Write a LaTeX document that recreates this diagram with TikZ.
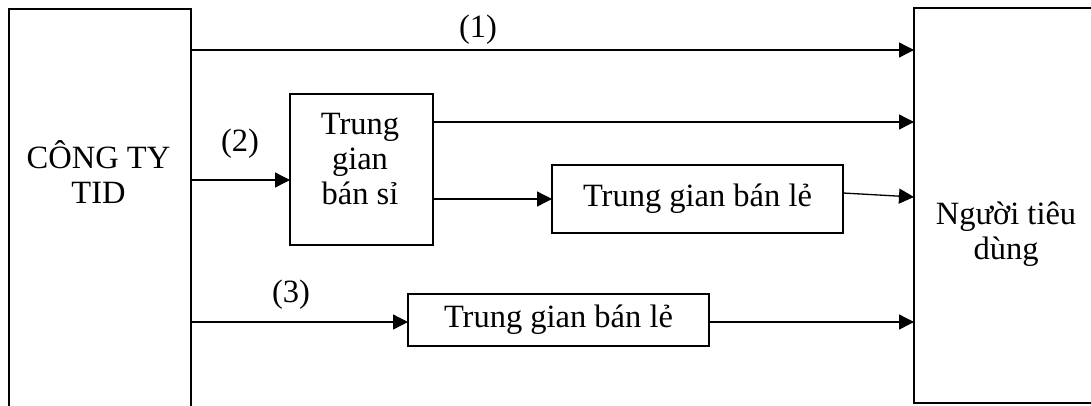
\documentclass[tikz,border=0pt]{standalone}
\usepackage{fontspec}
\setmainfont{Liberation Serif}
\usetikzlibrary{arrows.meta}
\begin{document}
\begin{tikzpicture}[x=1pt,y=-1pt,
  bigbox/.style={draw, line width=2pt, inner sep=0pt, outer sep=0pt},
  smallbox/.style={draw, line width=1.6pt, inner sep=0pt, outer sep=0pt},
  txt/.style={font=\fontsize{32.5}{35}\selectfont, align=center, inner sep=0pt},
  arr/.style={line width=1.3pt, -{Triangle[length=15pt,width=15pt]}}]
\clip (0,0) rectangle (1091,405);
\fill[white] (0,0) rectangle (1091,405);
% boxes
\node[bigbox, minimum width=182pt, minimum height=420pt] (tid) at (100,219) {};
\node[bigbox, minimum width=196pt, minimum height=395pt] (cons) at (1012,205.5) {};
\node[smallbox, minimum width=143pt, minimum height=151pt] (ws) at (361.5,169.5) {};
\node[smallbox, txt, minimum width=291pt, minimum height=68pt] (r1) at (697.5,199) {Trung gian bán lẻ};
\node[smallbox, txt, minimum width=301pt, minimum height=52pt] (r2) at (558.5,320) {Trung gian bán lẻ};
% texts
\node[txt] (tidtext) at (98.5,172.5) {CÔNG TY\\TID};
\node[txt] (constext) at (1006,234) {Người tiêu\\dùng};
\node[txt] (wstext) at (360,159.5) {Trung\\gian\\bán sỉ};
\node[txt] (l1) at (478,30) {(1)};
\node[txt] (l2) at (240,143.5) {(2)};
\node[txt] (l3) at (291,295) {(3)};
% levels
\coordinate (y1) at (0,50);
\coordinate (y2) at (0,180);
\coordinate (y3) at (0,122);
\coordinate (y5) at (0,193);
\coordinate (y6) at (0,197);
\coordinate (y7) at (0,322);
% connectors
\draw[arr] (tid.east |- y1) -- (cons.west |- y1);
\draw[arr] (tid.east |- y2) -- (ws.west |- y2);
\draw[arr] (ws.east |- y3) -- (cons.west |- y3);
\draw[arr] (ws.east |- r1.west) -- (r1.west);
\draw[arr] (r1.east |- y5) -- (cons.west |- y6);
\draw[arr] (tid.east |- y7) -- (r2.west |- y7);
\draw[arr] (r2.east |- y7) -- (cons.west |- y7);
\end{tikzpicture}
\end{document}
